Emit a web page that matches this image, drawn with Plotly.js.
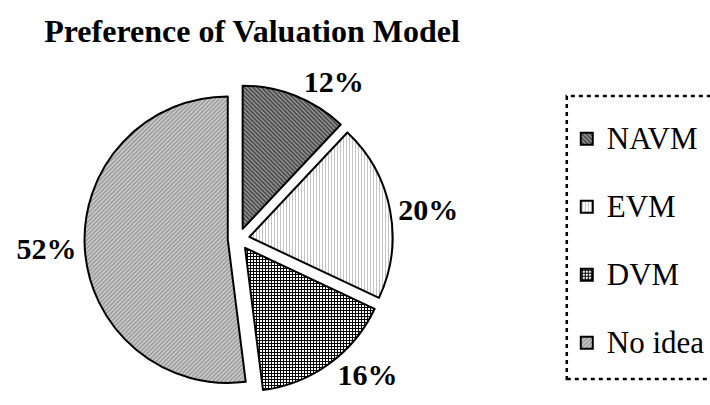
<!DOCTYPE html>
<html>
<head>
<meta charset="utf-8">
<script src="https://cdn.plot.ly/plotly-3.0.1.min.js"></script>
<style>html,body{margin:0;padding:0;background:#fff;}#chart{width:710px;height:405px;}</style>
</head>
<body>
<div id="chart"></div>
<script>
var categories = ["NAVM", "EVM", "DVM", "No idea"];
var shares = [12, 20, 16, 52];
var chartTitle = "Preference of Valuation Model";

var serif = "Liberation Serif";
var legendLabels = categories.map(function (c) {
  return '<span style="font-size:31px">' + c + '</span><br> ';
});

var trace = {
  type: "pie",
  labels: legendLabels,
  values: shares,
  sort: false,
  direction: "clockwise",
  rotation: 0,
  pull: [0.076, 0.076, 0.076, 0.076],
  textinfo: "percent",
  textposition: "outside",
  texttemplate: "%{percent:.0%}",
  textfont: { family: serif, size: 30, color: "#000", weight: "bold" },
  marker: {
    colors: ["#8a8a8a", "#ffffff", "#ffffff", "#c4c4c4"],
    line: { color: "#000", width: 2 },
    pattern: {
      shape: ["\\", "|", "+", "/"],
      bgcolor: ["#9a9a9a", "#ffffff", "#ffffff", "#cccccc"],
      fgcolor: ["#404040", "#c4c4c4", "#000000", "#8e8e8e"],
      size: [3, 3, 3, 3],
      solidity: [0.5, 0.35, 0.55, 0.4]
    }
  },
  domain: { x: [85 / 710, 395 / 710], y: [1 - 394 / 405, 1 - 84 / 405] },
  hoverinfo: "label+percent"
};

var layout = {
  width: 710,
  height: 405,
  margin: { l: 0, r: 0, t: 0, b: 0 },
  paper_bgcolor: "#fff",
  plot_bgcolor: "#fff",
  title: {
    text: "<b>" + chartTitle + "</b>",
    font: { family: serif, size: 32, color: "#000" },
    x: 252 / 710,
    xanchor: "center",
    y: 1 - 31 / 405,
    yanchor: "middle"
  },
  showlegend: true,
  legend: {
    x: 570 / 710,
    xanchor: "left",
    y: 1 - 116 / 405,
    yanchor: "top",
    valign: "top",
    font: { family: serif, size: 25, color: "#000" },
    bgcolor: "rgba(0,0,0,0)",
    borderwidth: 0
  },
  shapes: [{
    type: "rect",
    xref: "paper", yref: "paper",
    x0: 570 / 710, x1: 1.05,
    y0: 1 - 379 / 405, y1: 1 - 96 / 405,
    line: { color: "#000", width: 2.5, dash: "4px,4px" },
    fillcolor: "rgba(0,0,0,0)"
  }]
};

Plotly.newPlot("chart", [trace], layout, { displayModeBar: false, staticPlot: true });
</script>
</body>
</html>
